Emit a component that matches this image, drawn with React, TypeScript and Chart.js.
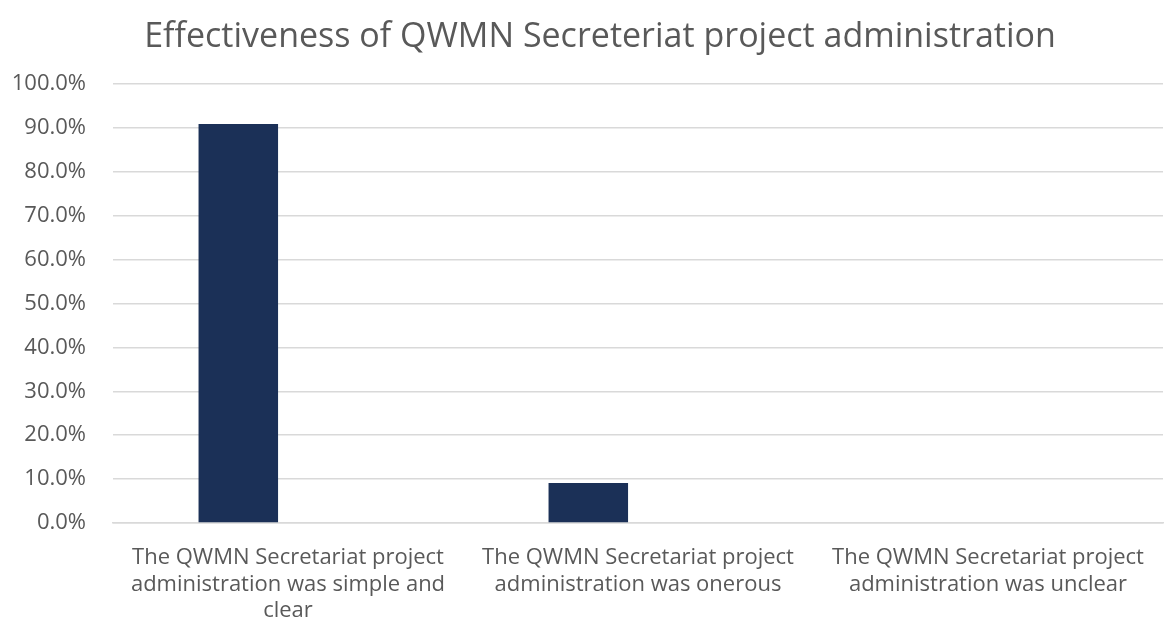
import React, { useEffect, useRef } from "react";
import { Chart, registerables } from "chart.js";

Chart.register(...registerables);

const TITLE = "Effectiveness of QWMN Secreteriat project administration";
const categories: string[][] = [
  ["The QWMN Secretariat project", "administration was simple and", "clear"],
  ["The QWMN Secretariat project", "administration was onerous"],
  ["The QWMN Secretariat project", "administration was unclear"],
];
const responseShare: number[] = [90.9, 9.1, 0];
const emptySeries: (number | null)[] = [null, null, null];
const yTicks: number[] = [0, 10, 20, 30, 40, 50, 60, 70, 80, 90, 100];

const FONT = "'Open Sans', 'Noto Sans', sans-serif";
const TEXT = "#595959";

const centeredTitle = {
  id: "centeredTitle",
  afterDraw(chart: any) {
    const ctx = chart.ctx;
    ctx.save();
    ctx.font = `normal 34px ${FONT}`;
    ctx.fillStyle = TEXT;
    ctx.textAlign = "center";
    ctx.textBaseline = "middle";
    ctx.fillText(TITLE, chart.width / 2 + 15, 37);
    ctx.restore();
  },
};

export default function App() {
  const ref = useRef<HTMLCanvasElement | null>(null);
  useEffect(() => {
    if (!ref.current) return;
    const chart = new Chart(ref.current, {
      type: "bar",
      data: {
        labels: categories,
        datasets: [
          {
            label: "Share",
            data: responseShare,
            backgroundColor: "#1b3057",
            borderWidth: 0,
            barPercentage: 0.8,
            categoryPercentage: 0.568,
          },
          {
            label: "Empty",
            data: emptySeries,
            backgroundColor: "#1b3057",
            borderWidth: 0,
            barPercentage: 0.8,
            categoryPercentage: 0.568,
          },
        ],
      },
      options: {
        responsive: false,
        animation: false,
        layout: { padding: { left: 10, right: 7, top: 84, bottom: 10 } },
        plugins: {
          legend: { display: false },
          tooltip: { enabled: false },
          title: { display: false },
        },
        scales: {
          x: {
            grid: { display: false, drawTicks: false },
            border: { display: true, color: "#d9d9d9", width: 1.5 },
            ticks: {
              color: TEXT,
              font: { family: FONT, size: 22, lineHeight: 1.22 },
              padding: 21,
              maxRotation: 0,
              autoSkip: false,
            },
            afterFit: (s: any) => {
              s.paddingLeft = 0;
              s.paddingRight = 0;
              s.height = 100;
            },
          },
          y: {
            min: yTicks[0],
            max: yTicks[yTicks.length - 1],
            afterFit: (s: any) => {
              s.width = 103;
              s.paddingTop = 0;
            },
            grid: { color: "#d9d9d9", lineWidth: 1.5, drawTicks: false },
            border: { display: false },
            ticks: {
              stepSize: yTicks[1] - yTicks[0],
              color: TEXT,
              font: { family: FONT, size: 22 },
              padding: 27,
              callback: function (value: any) {
                return Number(value).toFixed(1) + "%";
              },
            },
          },
        },
      },
      plugins: [centeredTitle],
    });
    return () => chart.destroy();
  }, []);
  return (
    <div style={{ position: "fixed", left: 0, top: 0, width: 1170, height: 633, background: "#fff" }}>
      <canvas ref={ref} width={1170} height={633} />
    </div>
  );
}
